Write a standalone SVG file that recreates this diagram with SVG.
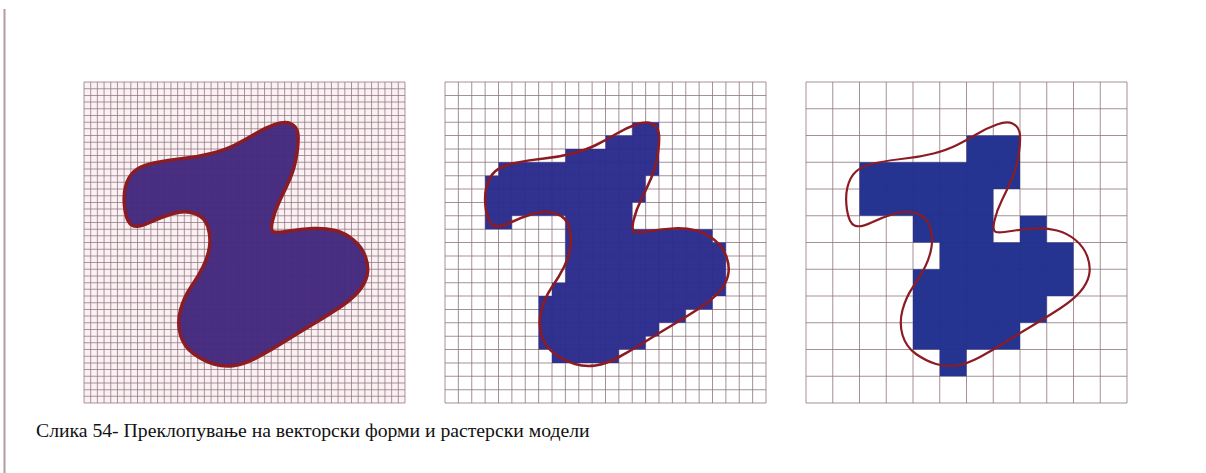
<svg xmlns="http://www.w3.org/2000/svg" xmlns:xlink="http://www.w3.org/1999/xlink" width="1206" height="473" viewBox="0 0 1206 473">
  <style>
    .bg { fill: #ffffff; }
    .gridline { stroke: #8e7480; fill: none; }
    .outline { fill: none; stroke: #8c1c24; stroke-linejoin: round; }
    .caption { font-family: "Liberation Serif", "Times New Roman", serif; font-size: 19.7px; fill: #111111; }
  </style>
  <defs>
    <path id="blob" d="M191 42.5Q201 39 206.5 41.5Q212 44 213.5 50Q215 56 213 70.5Q211 85 206 96.5Q201 108 196 118Q191 128 188.5 138.5Q186 149 190 150Q194 151 205.5 149Q217 147 229 146.5Q241 146 251 148.5Q261 151 269.5 158Q278 165 281.5 175Q285 185 283 193.5Q281 202 274 210Q267 218 254 226.5Q241 235 227.5 243Q214 251 200.5 259.5Q187 268 174 275Q161 282 150.5 283.5Q140 285 130 282Q120 279 110 272Q100 265 96.5 253Q93 241 96.5 228Q100 215 107 205Q114 195 119 185Q124 175 125.5 165Q127 155 124 145Q121 135 111 131.5Q101 128 89 131.5Q77 135 65.5 140.5Q54 146 48.5 143.5Q43 141 41 128Q39 115 41.5 105Q44 95 50 89.5Q56 84 70 81Q84 78 99 76.5Q114 75 127.5 71.5Q141 68 151 63Q161 58 171 52Q181 46 191 42.5Z"/>
  </defs>

  <rect class="bg" x="0" y="0" width="1206" height="473"/>
  <line x1="4.5" y1="9" x2="4.5" y2="473" stroke="#b49aa3" stroke-width="2"/>

  <!-- Fine grid (48 x 48) with smooth vector shape -->
  <g id="grid-fine">
    <rect x="84" y="82" width="321" height="321" fill="#fbf0f2"/>
    <line class="gridline" x1="83.5" y1="242.5" x2="405.5" y2="242.5" stroke-width="321" stroke-dasharray="1 5.6875" opacity="0.75"/>
    <line class="gridline" x1="244.5" y1="81.5" x2="244.5" y2="403.5" stroke-width="321" stroke-dasharray="1 5.6875" opacity="0.75"/>
    <use xlink:href="#blob" href="#blob" transform="translate(84,82)" fill="#43287e" fill-opacity="0.97"/>
    <use xlink:href="#blob" href="#blob" transform="translate(84,82)" class="outline" stroke-width="3.5"/>
  </g>

  <!-- Medium grid (24 x 24) with rasterised shape -->
  <g id="grid-medium">
    <line class="gridline" x1="444.5" y1="242.5" x2="766.5" y2="242.5" stroke-width="321" stroke-dasharray="1 12.375" opacity="0.8"/>
    <line class="gridline" x1="605.5" y1="81.5" x2="605.5" y2="403.5" stroke-width="321" stroke-dasharray="1 12.375" opacity="0.8"/>
    <path transform="translate(445,82)" fill="#2a2a8c" fill-opacity="0.97" d="M187.25 40.125H214V53.5H187.25Z M160.5 53.5H214V66.875H160.5Z M120.375 66.875H214V80.25H120.375Z M53.5 80.25H214V93.625H53.5Z M40.125 93.625H200.625V107H40.125Z M40.125 107H200.625V120.375H40.125Z M40.125 120.375H187.25V133.75H40.125Z M40.125 133.75H66.875V147.125H40.125Z M120.375 133.75H187.25V147.125H120.375Z M120.375 147.125H267.5V160.5H120.375Z M120.375 160.5H280.875V200.625H120.375Z M107 200.625H280.875V214H107Z M93.625 214H267.5V227.375H93.625Z M93.625 227.375H240.75V240.75H93.625Z M93.625 240.75H214V254.125H93.625Z M93.625 254.125H200.625V267.5H93.625Z M107 267.5H173.875V280.875H107Z"/>
    <use xlink:href="#blob" href="#blob" transform="translate(445,82)" class="outline" stroke-width="2.6"/>
  </g>

  <!-- Coarse grid (12 x 12) with rasterised shape -->
  <g id="grid-coarse">
    <line class="gridline" x1="805.5" y1="242.5" x2="1127.5" y2="242.5" stroke-width="321" stroke-dasharray="1 25.75" opacity="0.8"/>
    <line class="gridline" x1="966.5" y1="81.5" x2="966.5" y2="403.5" stroke-width="321" stroke-dasharray="1 25.75" opacity="0.8"/>
    <path transform="translate(806,82)" fill="#1f2d8d" fill-opacity="0.97" d="M160.5 53.5H214V80.25H160.5Z M53.5 80.25H214V107H53.5Z M53.5 107H187.25V133.75H53.5Z M107 133.75H187.25V160.5H107Z M214 133.75H240.75V160.5H214Z M133.75 160.5H267.5V187.25H133.75Z M107 187.25H267.5V214H107Z M107 214H240.75V240.75H107Z M107 240.75H214V267.5H107Z M133.75 267.5H160.5V294.25H133.75Z"/>
    <use xlink:href="#blob" href="#blob" transform="translate(806,82)" class="outline" stroke-width="2.2"/>
  </g>

  <g id="caption">
    <text class="caption" x="36" y="437">Слика 54- Преклопување на векторски форми и растерски модели</text>
  </g>
</svg>
